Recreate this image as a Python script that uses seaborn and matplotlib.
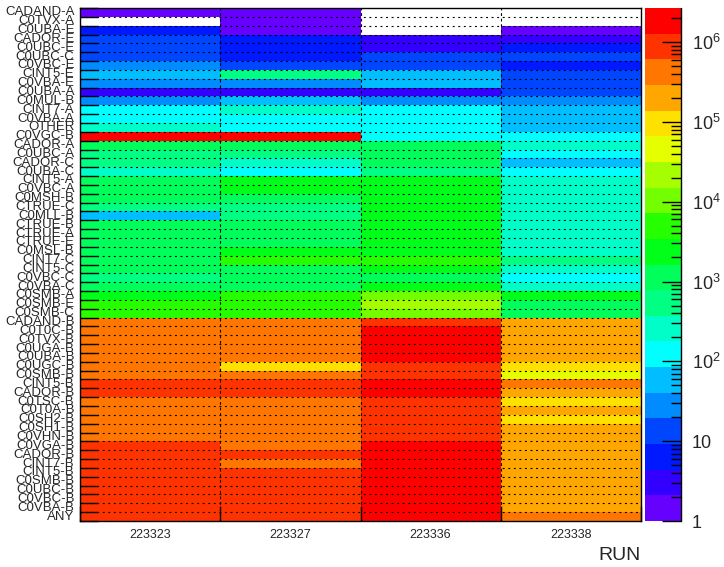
import numpy as np
import pandas as pd
import matplotlib
matplotlib.use("Agg")
import matplotlib.pyplot as plt
import seaborn as sns
from matplotlib.colors import ListedColormap, LogNorm
from matplotlib.lines import Line2D
from matplotlib.ticker import FixedLocator, LogLocator, NullFormatter, FixedFormatter

runs = ["223323", "223327", "223336", "223338"]

triggers = [
    "CADAND-A", "C0TVX-A", "C0UBA-E", "CADOR-E", "C0UBC-E", "C0UBC-C", "C0VBC-E",
    "CINT5-E", "C0VBA-E", "C0UBA-A", "C0MUL-B", "CINT7-A", "C0VBA-A", "OTHER",
    "C0VGC-B", "CADOR-A", "C0UBC-A", "CADOR-C", "C0UBA-C", "CINT5-A", "C0VBC-A",
    "C0MSH-B", "CTRUE-C", "C0MLL-B", "CTRUE-B", "CTRUE-A", "CTRUE-E", "C0MSL-B",
    "CINT7-C", "CINT5-C", "C0VBC-C", "C0VBA-C", "C0SMB-A", "C0SMB-E", "C0SMB-C",
    "CADAND-B", "C0T0C-B", "C0TVX-B", "C0UGA-B", "C0UBA-B", "C0UGC-B", "C0SMB-B",
    "CINT5-B", "CADOR-B", "C0TSC-B", "C0T0A-B", "C0SH2-B", "C0SH1-B", "C0VHN-B",
    "C0VGA-B", "CADOR-B", "CINT7-B", "CINT5-B", "C0SMB-B", "C0UBC-B", "C0VBC-B",
    "C0VBA-B", "ANY",
]

nan = np.nan
# trigger counts per run (empty bins are NaN)
run_223323 = [
    1, nan, 6, 13, 14, 15, 28,
    58, 29, 3, 28, 125, 120, 260,
    1800000, 1150, 540, 560, 260, 1150, 1200,
    1100, 550, 60, 1150, 1160, 1140, 1130,
    1150, 1100, 530, 1150, 2400, 5000, 4900,
    420000, 430000, 420000, 410000, 420000, 420000, 420000,
    880000, 870000, 420000, 430000, 420000, 410000, 420000,
    880000, 870000, 880000, 890000, 880000, 870000, 880000,
    880000, 900000,
]
run_223327 = [
    1, 1, 2, 6, 6, 7, 12,
    500, 29, 3, 58, 260, 125, 130,
    1850000, 1150, 540, 260, 125, 2400, 2300,
    1150, 550, 540, 1150, 1160, 1140, 2400,
    5000, 1100, 1150, 1150, 5000, 5000, 4900,
    420000, 430000, 420000, 410000, 420000, 96000, 420000,
    880000, 870000, 420000, 430000, 420000, 410000, 420000,
    420000, 870000, 420000, 890000, 880000, 870000, 880000,
    880000, 900000,
]
run_223336 = [
    nan, nan, nan, 3, 3, 13, 13,
    60, 58, 3, 28, 125, 120, 125,
    125, 1150, 1150, 1150, 540, 2400, 2400,
    2400, 2400, 2400, 2400, 2400, 2400, 2400,
    5000, 2400, 1150, 2400, 10500, 22000, 10500,
    880000, 1850000, 1850000, 1800000, 1800000, 880000, 880000,
    1850000, 1850000, 880000, 880000, 880000, 880000, 880000,
    1850000, 1850000, 1850000, 1850000, 1850000, 1850000, 1850000,
    1850000, 2600000,
]
run_223338 = [
    nan, nan, 2, 3, 6, 14, 7,
    13, 13, 14, 28, 58, 58, 58,
    125, 260, 125, 60, 125, 260, 260,
    260, 260, 260, 260, 260, 260, 260,
    540, 260, 125, 260, 2400, 1150, 1150,
    200000, 200000, 200000, 200000, 200000, 96000, 46000,
    420000, 200000, 96000, 200000, 96000, 200000, 200000,
    200000, 200000, 200000, 200000, 200000, 200000, 200000,
    200000, 420000,
]

z_min, z_max = 1.0, 2.67e6

# 20-step rainbow palette, low to high
palette = [
    (102, 0, 255), (51, 0, 255), (0, 25, 255), (0, 70, 255), (0, 140, 255),
    (0, 190, 255), (0, 255, 255), (0, 255, 200), (0, 255, 130), (0, 255, 90),
    (0, 255, 25), (38, 255, 0), (115, 255, 0), (166, 255, 0), (230, 255, 0),
    (255, 225, 0), (255, 166, 0), (255, 119, 0), (255, 51, 0), (255, 0, 0),
]
cmap = ListedColormap([tuple(c / 255 for c in rgb) for rgb in palette])
cmap.set_bad("white")

df = pd.DataFrame(
    {"223323": run_223323, "223327": run_223327, "223336": run_223336, "223338": run_223338},
    index=triggers,
)

sns.set_theme(style="white")
plt.rcParams["font.family"] = ["Liberation Sans", "DejaVu Sans"]
plt.rcParams["mathtext.fontset"] = "custom"
plt.rcParams["mathtext.rm"] = "Liberation Sans"
plt.rcParams["mathtext.it"] = "Liberation Sans"
plt.rcParams["lines.scale_dashes"] = False
plt.rcParams["axes.axisbelow"] = False

W, H = 724, 567
fig = plt.figure(figsize=(W / 100, H / 100), dpi=100)
fig.patch.set_facecolor("white")

def px_axes(x0, y0, x1, y1):
    return fig.add_axes([x0 / W, 1 - y1 / H, (x1 - x0) / W, (y1 - y0) / H])

ax = px_axes(80, 8, 641, 521)
cax = px_axes(645, 8, 681, 521)

sns.heatmap(
    df, ax=ax, cmap=cmap, norm=LogNorm(vmin=z_min, vmax=z_max),
    mask=df.isna(), cbar_ax=cax, linewidths=0,
    xticklabels=runs, yticklabels=triggers,
)
ax.set_axisbelow(False)
cax.set_axisbelow(False)

n_rows, n_cols = df.shape
ax.set_xlim(0, n_cols)
ax.set_ylim(n_rows, 0)
ax.set_xlabel("")
ax.set_ylabel("")

# dotted grid along bin edges
for i in range(1, n_rows):
    ax.axhline(i, color="black", lw=0.8, ls=(0, (1.4, 2.6)), zorder=3)
for j in range(1, n_cols):
    ax.axvline(j, color="black", lw=0.8, ls=(0, (2.0, 2.0)), zorder=3)

# frame
for s in ax.spines.values():
    s.set_visible(True)
    s.set_color("black")
    s.set_linewidth(1.0)
    s.set_zorder(5)

# labels at bin centres, tick marks at bin edges
ax.set_yticks(np.arange(n_rows) + 0.5)
ax.set_yticklabels(triggers, rotation=0, fontsize=9.5)
ax.set_xticks(np.arange(n_cols) + 0.5)
ax.set_xticklabels(runs, rotation=0, fontsize=9)
ax.set_yticks(np.arange(n_rows + 1), minor=True)
ax.set_xticks(np.arange(n_cols + 1), minor=True)
ax.tick_params(axis="y", which="major", length=0, pad=4)
ax.tick_params(axis="x", which="major", length=0, pad=6)
ax.tick_params(axis="y", which="minor", direction="in", length=13, width=1.0,
               color="black", left=True, right=False)
ax.tick_params(axis="x", which="minor", direction="in", length=11, width=1.0,
               color="black", bottom=True, top=False)

fig.text(641 / W, 1 - 555 / H, "RUN", ha="right", va="center", fontsize=14)

# colour scale
cbar = ax.collections[0].colorbar
cbar.outline.set_visible(False)
cax.set_yscale("log")
cax.set_ylim(z_min, z_max)
majors = [1, 10, 1e2, 1e3, 1e4, 1e5, 1e6]
cax.yaxis.set_major_locator(FixedLocator(majors))
cax.yaxis.set_major_formatter(FixedFormatter(
    ["1", "10", r"$10^{2}$", r"$10^{3}$", r"$10^{4}$", r"$10^{5}$", r"$10^{6}$"]))
cax.yaxis.set_minor_locator(LogLocator(base=10, subs=np.arange(2, 10), numticks=20))
cax.yaxis.set_minor_formatter(NullFormatter())
cax.yaxis.set_ticks_position("right")
cax.tick_params(axis="y", which="major", direction="in", length=14, width=1.0,
                color="black", labelsize=13, pad=8)
cax.tick_params(axis="y", which="minor", direction="in", length=7, width=1.0,
                color="black")
cax.add_line(Line2D([1, 1], [0, 1], transform=cax.transAxes, color="black",
                    lw=1.0, clip_on=False, zorder=5))

fig.savefig("out.png", dpi=100)
